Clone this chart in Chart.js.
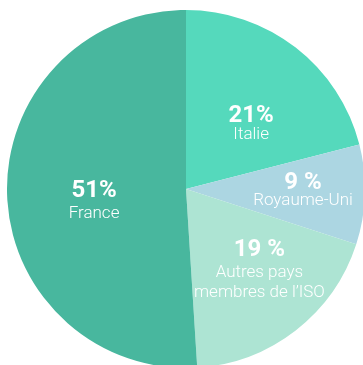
<!DOCTYPE html>
<html>
<head>
<meta charset="utf-8">
<script src="https://cdn.jsdelivr.net/npm/chart.js@4/dist/chart.umd.min.js"></script>
<style>
  html, body { margin: 0; padding: 0; background: #ffffff; overflow: hidden; width: 363px; height: 365px; }
  #wrap { position: absolute; left: 7px; top: 10px; width: 358px; height: 358px; }
</style>
</head>
<body>
<div id="wrap"><canvas id="pie"></canvas></div>
<script>
// Share by country (%), clockwise from 12 o'clock
const countries = ['Italie', 'Royaume-Uni', 'Autres pays membres de l\u2019ISO', 'France'];
const shares = [21, 9, 19, 51];
const percentLabels = ['21%', '9 %', '19 %', '51%'];
const nameLines = [['Italie'], ['Royaume-Uni'], ['Autres pays', 'membres de l\u2019ISO'], ['France']];

const sliceColors = ['#55d9bc', '#acd6e2', '#ade4d3', '#48b79e'];

// label placement: radial fraction of the slice, pixel nudge, gap under the percentage
const labelLayout = [
  { r: 0.53, dx: 7, dy: 8, gap: 17 },
  { r: 0.654, dx: 0, dy: -4, gap: 16 },
  { r: 0.56, dx: 12, dy: 0, gap: 21 },
  { r: 0.514, dx: 0, dy: 7, gap: 21 }
];

const sliceLabels = {
  id: 'sliceLabels',
  afterDatasetsDraw(chart) {
    const ctx = chart.ctx;
    const meta = chart.getDatasetMeta(0);
    const capH = 17, lineH = 20;
    meta.data.forEach((arc, i) => {
      const p = arc.getProps(['x', 'y', 'startAngle', 'endAngle', 'outerRadius']);
      const mid = (p.startAngle + p.endAngle) / 2;
      const L = labelLayout[i];
      const cx = p.x + Math.cos(mid) * p.outerRadius * L.r + L.dx;
      const cy = p.y + Math.sin(mid) * p.outerRadius * L.r + L.dy;
      const lines = nameLines[i];
      const blockH = capH + L.gap + (lines.length - 1) * lineH;
      const pctBase = cy - blockH / 2 + capH;
      ctx.save();
      ctx.fillStyle = '#ffffff';
      ctx.textAlign = 'center';
      ctx.textBaseline = 'alphabetic';
      ctx.font = 'bold 24px Roboto, "DejaVu Sans", sans-serif';
      ctx.fillText(percentLabels[i], cx, pctBase);
      ctx.font = '300 17px Roboto, "DejaVu Sans", sans-serif';
      lines.forEach((t, k) => {
        ctx.fillText(t, cx, pctBase + L.gap + k * lineH);
      });
      ctx.restore();
    });
  }
};

new Chart(document.getElementById('pie'), {
  type: 'pie',
  data: {
    labels: countries,
    datasets: [{
      data: shares,
      backgroundColor: sliceColors,
      borderWidth: 0
    }]
  },
  options: {
    responsive: true,
    maintainAspectRatio: false,
    animation: false,
    layout: { padding: 0 },
    plugins: {
      legend: { display: false },
      tooltip: { enabled: false }
    }
  },
  plugins: [sliceLabels]
});
</script>
</body>
</html>
